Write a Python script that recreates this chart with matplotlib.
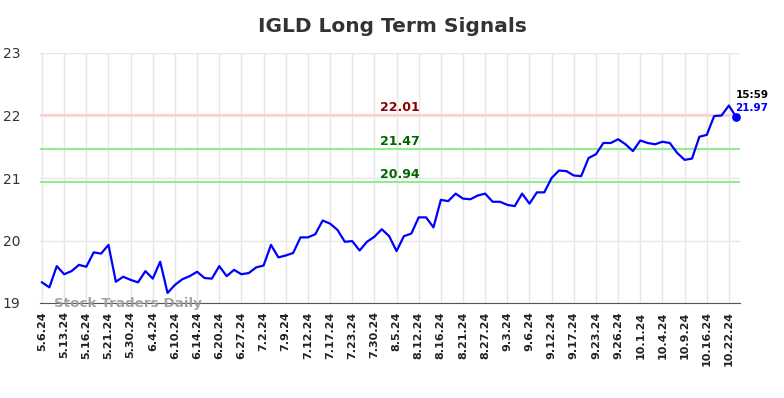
import matplotlib
matplotlib.use("Agg")
import matplotlib.pyplot as plt

title = "IGLD Long Term Signals"
tick_labels = ["5.6.24", "5.13.24", "5.16.24", "5.21.24", "5.30.24", "6.4.24", "6.10.24",
               "6.14.24", "6.20.24", "6.27.24", "7.2.24", "7.9.24", "7.12.24", "7.17.24",
               "7.23.24", "7.30.24", "8.5.24", "8.12.24", "8.16.24", "8.21.24", "8.27.24",
               "9.3.24", "9.6.24", "9.12.24", "9.17.24", "9.23.24", "9.26.24", "10.1.24",
               "10.4.24", "10.9.24", "10.16.24", "10.22.24"]
prices = [19.33, 19.25, 19.59, 19.46, 19.51, 19.61, 19.58, 19.81, 19.79, 19.93,
          19.34, 19.42, 19.37, 19.33, 19.51, 19.39, 19.66, 19.16, 19.29, 19.38,
          19.43, 19.50, 19.40, 19.39, 19.59, 19.43, 19.53, 19.46, 19.48, 19.57,
          19.60, 19.93, 19.73, 19.76, 19.80, 20.05, 20.05, 20.10, 20.32, 20.27,
          20.17, 19.98, 19.99, 19.84, 19.98, 20.06, 20.18, 20.07, 19.83, 20.07,
          20.11, 20.37, 20.37, 20.21, 20.65, 20.63, 20.75, 20.67, 20.66, 20.72,
          20.75, 20.62, 20.62, 20.57, 20.55, 20.75, 20.59, 20.77, 20.77, 21.00,
          21.12, 21.11, 21.04, 21.03, 21.32, 21.38, 21.56, 21.56, 21.62, 21.54,
          21.43, 21.60, 21.56, 21.54, 21.58, 21.56, 21.40, 21.29, 21.31, 21.66,
          21.69, 21.99, 22.00, 22.16, 21.97]
resistance = 22.01
support_levels = [21.47, 20.94]
last_time = "15:59"
last_value = 21.97
y_ticks = [19, 20, 21, 22, 23]
tick_step = 3

fig = plt.figure(figsize=(7.84, 3.98), dpi=100)
ax = fig.add_axes([40/784, 1-303/398, 700/784, 250/398])

x = list(range(len(prices)))
ax.plot(x, prices, color="#0000ff", lw=1.6, zorder=3)
ax.scatter([x[-1]], [prices[-1]], s=28, color="#0000ff", zorder=4)

ax.axhline(resistance, color="#ffcccc", lw=1.5, zorder=2)
for s in support_levels:
    ax.axhline(s, color="#90ee90", lw=1.5, zorder=2)

mid = 48.5
ax.text(mid, resistance + 0.015, f"{resistance:.2f}", color="#8b0000", fontsize=9,
        fontweight="bold", ha="center", va="bottom")
for s in support_levels:
    ax.text(mid, s + 0.015, f"{s:.2f}", color="#006400", fontsize=9,
            fontweight="bold", ha="center", va="bottom")

ax.text(x[-1] - 0.1, last_value + 0.28, last_time, color="black", fontsize=7.5,
        fontweight="bold", ha="left", va="bottom")
ax.text(x[-1] - 0.1, last_value + 0.07, f"{last_value:.2f}", color="#0000ff", fontsize=7.5,
        fontweight="bold", ha="left", va="bottom")

ax.text(1.6, 19.0, "Stock Traders Daily", color="#999999", fontsize=9.7,
        fontweight="bold", ha="left", va="center", alpha=0.9, zorder=5)

tick_pos = list(range(0, len(prices), tick_step))[:len(tick_labels)]
ax.set_xticks(tick_pos)
ax.set_xticklabels(tick_labels, rotation=90, fontsize=8, fontweight="bold", color="#222222")
ax.set_yticks(y_ticks)
ax.set_yticklabels([str(v) for v in y_ticks], fontsize=10, color="#333333")
ax.set_xlim(-0.27, 94.5)
ax.set_ylim(19, 23)

ax.grid(True, color="#e6e6e6", lw=1)
ax.set_axisbelow(True)
for side in ["left", "right", "top"]:
    ax.spines[side].set_visible(False)
ax.spines["bottom"].set_color("#555555")
ax.tick_params(axis="both", length=0, pad=6)
ax.tick_params(axis="y", pad=14)

fig.text(0.5, 1-27/398, title, ha="center", va="center", fontsize=14.5,
         fontweight="bold", color="#333333")

fig.savefig("out.png", dpi=100)
